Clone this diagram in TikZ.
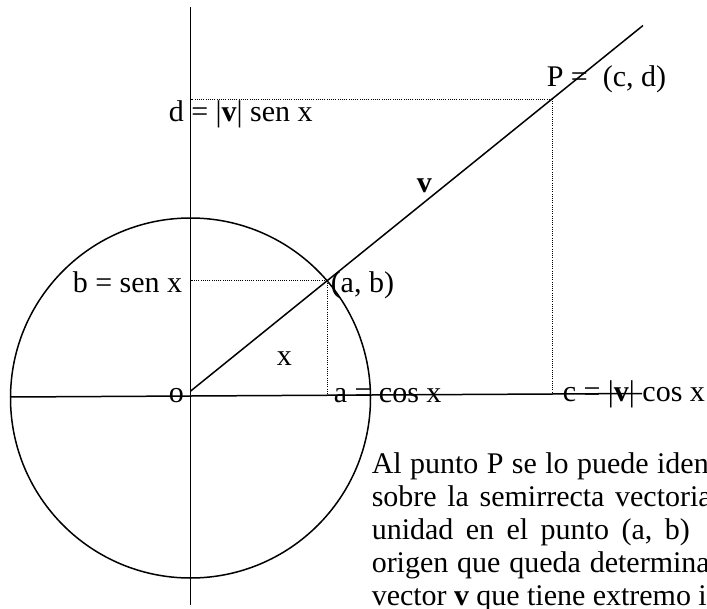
\documentclass[tikz,border=0pt]{standalone}
\usepackage{fontspec}
\setmainfont{Liberation Serif}
\usetikzlibrary{intersections}

\begin{document}
\begin{tikzpicture}[x=1pt,y=-1pt,line width=1.5pt,
  lbl/.style={inner sep=0pt,anchor=base west,font=\fontsize{30}{33}\selectfont},
  guide/.style={line width=0.8pt,dash pattern=on 1pt off 1.2pt}]
  \useasboundingbox (0,0) rectangle (707,608);
  % axes and unit circle
  \coordinate (Vt) at (190.5,7);
  \coordinate (Vb) at (190.5,605);
  \coordinate (Hl) at (10,397);
  \coordinate (Hr) at (642,393.5);
  \coordinate (O) at (190.5,398);
  \draw (Vt) -- (Vb);
  \draw (Hl) -- (Hr);
  \draw[name path=circ] (O) circle[radius=180];
  % ray of v
  \coordinate (S) at (190.7,391);
  \coordinate (E) at (643,25.5);
  \coordinate (P) at (552,99);
  \draw[name path=ray] (S) -- (E);
  \path[name intersections={of=circ and ray,by=AB}];
  % projections
  \draw[guide] (AB) -- (AB -| Vt);
  \draw[guide] (AB) -- (AB |- Hr);
  \draw[guide] (P) -- (P -| Vt);
  \draw[guide] (P) -- (P |- Hr);
  % labels
  \node[lbl] (Plab) at (546,86) {P = \ (c, d)};
  \node[lbl] (dlab) at (168,121) {d = |\textbf{v}| sen x};
  \node[lbl] (vlab) at (416,192) {\textbf{v}};
  \node[lbl] (blab) at (72,292) {b = sen x};
  \node[lbl] (ablab) at (330,292) {(a, b)};
  \node[lbl] (xlab) at (276,365) {x};
  \node[lbl] (olab) at (168,402) {o};
  \node[lbl] (alab) at (333,402) {a = cos x};
  \node[lbl] (clab) at (562,401) {c = |\textbf{v}| cos x};
  % text (justified lines)
  \node[lbl] (t1) at (371,473) {\hbox to 337pt{Al\hfill punto\hfill P\hfill se\hfill lo\hfill puede\hfill iden}};
  \node[lbl] (t2) at (371,506) {\hbox to 340pt{sobre\hfill la\hfill semirrecta\hfill vectoria}};
  \node[lbl] (t3) at (371,539) {\hbox to 318pt{unidad\hfill en\hfill el\hfill punto\hfill (a,\hfill b)}};
  \node[lbl] (t4) at (371,572) {\hbox to 338pt{origen\hfill que\hfill queda\hfill determina}};
  \node[lbl] (t5) at (371,605) {\hbox to 335pt{vector\hfill \textbf{v}\hfill que\hfill tiene\hfill extremo\hfill i}};
\end{tikzpicture}
\end{document}
